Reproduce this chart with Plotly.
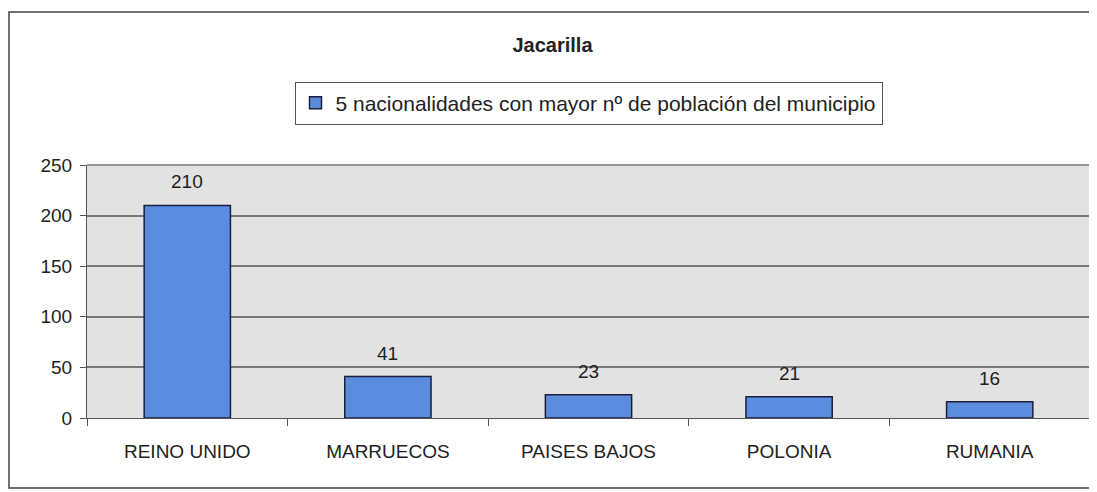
import plotly.graph_objects as go

categories = ["REINO UNIDO", "MARRUECOS", "PAISES BAJOS", "POLONIA", "RUMANIA"]
values = [210, 41, 23, 21, 16]
series_name = "5 nacionalidades con mayor nº de población del municipio"
title_text = "Jacarilla"
y_ticks = [0, 50, 100, 150, 200, 250]

W, H = 1089, 484
L, R, T, B = 79, 7, 157, 74
PW, PH = W - L - R, H - T - B

fig = go.Figure()
fig.add_trace(go.Bar(
    x=categories, y=values, name=series_name,
    marker=dict(color="#5b8ddf", line=dict(color="#1a1f3a", width=1.5)),
))

for c, v in zip(categories, values):
    fig.add_annotation(x=c, y=v, text=str(v), showarrow=False, yanchor="bottom",
                       yshift=11, font=dict(size=19, color="#222222"))

fig.update_layout(
    width=W, height=H,
    margin=dict(l=L, r=R, t=T, b=B),
    paper_bgcolor="#ffffff",
    plot_bgcolor="#e2e2e2",
    font=dict(family="Liberation Sans, Arial", size=19, color="#222222"),
    title=dict(text="<b>" + title_text + "</b>", x=0.5, xanchor="center",
               y=1 - 37 / H, yanchor="middle",
               font=dict(size=20, color="#222222")),
    showlegend=True,
    legend=dict(orientation="h", x=0.5, xanchor="center", y=1 - 95 / H, yref="container",
                yanchor="middle", bordercolor="#555555", borderwidth=1,
                bgcolor="#ffffff", font=dict(size=21)),
    bargap=0.57,
    xaxis=dict(showline=True, linecolor="#555555", ticks="outside", tickcolor="#555555",
               ticklen=7, tickson="boundaries", showgrid=False,
               tickfont=dict(size=19), ticklabelstandoff=16, automargin=False),
    yaxis=dict(range=[0, 250], tickvals=y_ticks, showline=True, linecolor="#555555",
               ticks="outside", tickcolor="#555555", ticklen=6, ticklabelstandoff=4,
               showgrid=True, gridcolor="#777777", gridwidth=1.6,
               tickfont=dict(size=19), zeroline=False, automargin=False),
    shapes=[
        dict(type="rect", xref="paper", yref="paper",
             x0=-(L - 1) / PW, x1=1 + 2 / PW, y0=-(H - 4 - (T + PH)) / PH, y1=1 + (T - 4) / PH,
             line=dict(color="#444444", width=1.5), fillcolor="rgba(0,0,0,0)", layer="below"),
        dict(type="line", xref="paper", yref="paper", x0=0, x1=1, y0=1, y1=1,
             line=dict(color="#777777", width=1.6)),
        dict(type="line", xref="paper", yref="paper", x0=1, x1=1, y0=0, y1=1,
             line=dict(color="#555555", width=1)),
    ],
)

fig.write_html("out.html")
